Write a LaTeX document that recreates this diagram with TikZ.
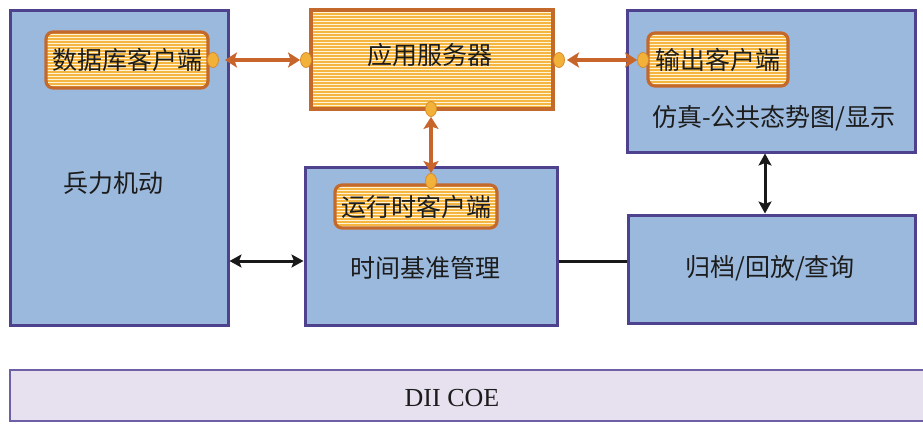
\documentclass[tikz,border=0pt]{standalone}
\usepackage{fontspec}
\setmainfont{Liberation Serif}
\newfontfamily\cjk{Noto Sans CJK SC}
\usetikzlibrary{shapes.geometric,arrows.meta,calc}

\definecolor{boxblue}{HTML}{9BB9DD}
\definecolor{boxline}{HTML}{4E428E}
\definecolor{clientline}{HTML}{C4692C}
\definecolor{stripecol}{HTML}{F4B640}
\definecolor{cream}{HTML}{FFF4D8}
\definecolor{portfill}{HTML}{F2B23A}
\definecolor{portline}{HTML}{D98A2C}
\definecolor{linkorange}{HTML}{C8652B}
\definecolor{coefill}{HTML}{E6E0EF}
\definecolor{coeline}{HTML}{6E5FA6}
\definecolor{inktext}{HTML}{1C1C1C}

\tikzset{
  cjktext/.style={font=\cjk\fontsize{25}{28}\selectfont, text=inktext},
  unit/.style={draw=boxline, line width=3pt, fill=boxblue, inner sep=0pt},
  striped/.style={path picture={
      \foreach \k in {0,...,40}{
        \draw[stripecol, line width=1.3pt]
          ([yshift=-\k*3pt-1pt]path picture bounding box.north west) --
          ([yshift=-\k*3pt-1pt]path picture bounding box.north east);
      }}},
  client/.style={draw=clientline, line width=3.2pt, fill=cream, striped,
    rounded corners=7pt, inner sep=0pt, cjktext},
  server/.style={draw=clientline, line width=3.2pt, fill=cream, striped,
    inner sep=0pt, cjktext},
  port/.style={ellipse, draw=portline, line width=0.8pt, fill=portfill,
    inner sep=0pt, minimum width=11pt, minimum height=15pt},
  olink/.style={draw=linkorange, line width=3.6pt,
    {Stealth[length=12pt,width=15pt,inset=2.5pt]}-{Stealth[length=12pt,width=15pt,inset=2.5pt]}},
  blink/.style={draw=black!90, line width=3pt,
    {Stealth[length=12pt,width=13pt,inset=2.5pt]}-{Stealth[length=12pt,width=13pt,inset=2.5pt]}},
  plainlink/.style={draw=black!90, line width=3pt},
  label/.style={cjktext, inner sep=0pt},
  coebar/.style={draw=coeline, line width=2.4pt, fill=coefill, inner sep=0pt},
}

\begin{document}
\begin{tikzpicture}[x=1pt, y=-1pt]
  \useasboundingbox (0,0) rectangle (923,423);

  % base layer
  \node[coebar, minimum width=920pt, minimum height=51pt] (coe) at (470,395.5) {};
  \node[font=\fontsize{26}{29}\selectfont, text=inktext, inner sep=0pt] (coetext) at (452,398) {DII COE};

  % blue functional units
  \node[unit, minimum width=218pt, minimum height=315pt] (mob) at (119,167.5) {};
  \node[label] (mobtext) at (113,183) {兵力机动};

  \node[unit, minimum width=288pt, minimum height=142pt] (sim) at (771,81) {};
  \node[label] (simtext) at (774,118) {仿真-公共态势图/显示};

  \node[unit, minimum width=252pt, minimum height=158pt] (tim) at (431,246) {};
  \node[label] (timtext) at (425,268) {时间基准管理};

  \node[unit, minimum width=287pt, minimum height=108pt] (arc) at (771.5,269) {};
  \node[label] (arctext) at (770,268) {归档/回放/查询};

  % application server and its clients
  \node[server, minimum width=242pt, minimum height=99pt] (srv) at (432,59.5) {};
  \node[label] (srvtext) at (430,55) {应用服务器};

  \node[client, minimum width=162pt, minimum height=56pt] (dbc) at (127,60) {数据库客户端};
  \node[client, minimum width=140pt, minimum height=53pt] (outc) at (718,59.5) {输出客户端};
  \node[client, minimum width=162pt, minimum height=43pt] (rtc) at (416,206.5) {运行时客户端};

  % connection ports
  \node[port] (p1) at (213,60) {};
  \node[port] (p2) at (306,60) {};
  \node[port] (p3) at (559,60) {};
  \node[port] (p4) at (643,60) {};
  \node[port] (p5) at (431,109) {};
  \node[port] (p6) at (431,181) {};

  % server links
  \draw[olink, shorten <=6pt] (p1) -- (p2);
  \draw[olink, shorten <=2pt] (p3) -- (p4);
  \draw[olink] (p6) -- (p5);

  % unit links
  \coordinate (lvl) at (0,261);
  \coordinate (vx) at (765,0);
  \draw[blink] (mob.east |- lvl) -- (tim.west |- lvl);
  \draw[plainlink] (tim.east |- lvl) -- (arc.west |- lvl);
  \draw[blink] (sim.south -| vx) -- (arc.north -| vx);
\end{tikzpicture}
\end{document}
